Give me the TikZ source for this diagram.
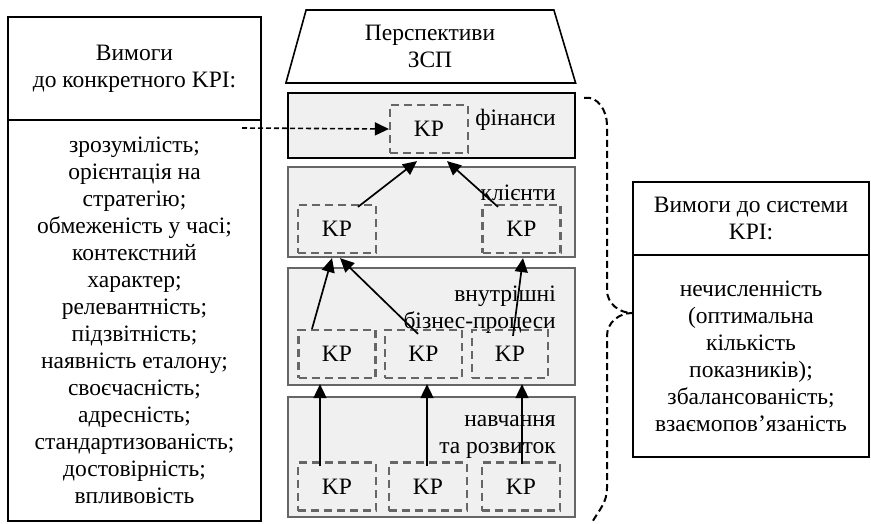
\documentclass[tikz,border=0pt]{standalone}
\usepackage{fontspec}
\setmainfont{Liberation Serif}
\usetikzlibrary{arrows.meta,shapes.geometric}

\begin{document}
\begin{tikzpicture}[
  x=1pt, y=1pt,
  >={Triangle[length=14pt,width=13pt]},
  every node/.style={font=\fontsize{23.5}{27}\selectfont, inner sep=0pt},
  reqbox/.style={
    draw,
    line width=1.6pt,
    align=center
  },
  persp/.style={
    draw,
    line width=1.6pt,
    trapezium,
    trapezium stretches=true,
    trapezium left angle=76,
    trapezium right angle=75,
    minimum width=290pt,
    minimum height=73pt,
    align=center
  },
  layer/.style={
    draw=black!60,
    line width=2.3pt,
    fill=black!6,
    minimum width=287pt
  },
  kpbox/.style={
    draw=black!60,
    dash pattern=on 8pt off 5pt,
    line width=2.2pt,
    minimum width=78pt,
    minimum height=48pt
  },
  lbl/.style={anchor=east, align=right},
  flow/.style={->, line width=1.7pt},
  linkflow/.style={->, line width=1.6pt, dash pattern=on 5pt off 3pt},
  brace/.style={line width=2pt, dash pattern=on 7pt off 4pt}
]
\useasboundingbox (0,0) rectangle (871,523);

\node[reqbox, minimum width=253pt, minimum height=103pt] (lhead) at (134.5,454.5)
  {Вимоги\\до конкретного KPI:};
\node[reqbox, minimum width=253pt, minimum height=401pt] (lbody) at (134.5,202.5)
  {зрозумілість;\\орієнтація на\\стратегію;\\обмеженість у часі;\\контекстний\\характер;\\релевантність;\\підзвітність;\\наявність еталону;\\своєчасність;\\адресність;\\стандартизованість;\\достовірність;\\впливовість};

\node[reqbox, minimum width=236pt, minimum height=73pt] (rhead) at (751,304.5)
  {Вимоги до системи\\KPI:};
\node[reqbox, minimum width=236pt, minimum height=202pt] (rbody) at (751,167)
  {нечисленність\\(оптимальна\\кількість\\показників);\\збалансованість;\\взаємопов’язаність};

\node[persp] (title) at (430,476.5) {Перспективи\\ЗСП};

\node[layer, draw=black, minimum height=65pt] (fin) at (431.5,397.5) {};
\node[layer, minimum height=90pt] (cli) at (431.5,311) {};
\node[layer, minimum height=117pt] (int) at (431.5,196.5) {};
\node[layer, minimum height=120pt] (lrn) at (431.5,66) {};

\node[lbl] (finlbl) at (556,403) {фінанси};
\node[lbl] (clilbl) at (556,330) {клієнти};
\node[lbl] (intlbl) at (556,213.5) {внутрішні\\бізнес-процеси};
\node[lbl] (lrnlbl) at (556,86.5) {навчання\\та розвиток};

\node[kpbox] (fk) at (429,394) {KP};
\node[kpbox] (c1) at (337,294) {KP};
\node[kpbox] (c2) at (521.5,294) {KP};
\node[kpbox, minimum width=77pt] (i1) at (337,169) {KP};
\node[kpbox, minimum width=77pt] (i2) at (423.5,169) {KP};
\node[kpbox, minimum width=76pt] (i3) at (510,169) {KP};
\node[kpbox] (l1) at (337,36.5) {KP};
\node[kpbox] (l2) at (428,36.5) {KP};
\node[kpbox] (l3) at (521,36.5) {KP};

\coordinate (src) at (242,395);
\coordinate (tip) at ([yshift=43]rbody.west);

\draw[linkflow] (src) -- (fk.west);

\draw[flow] ([shift={(21,-3)}]c1.north) -- ([shift={(-12,-7)}]fk.south);
\draw[flow] ([shift={(-23.5,-3)}]c2.north) -- ([shift={(18,-7)}]fk.south);

\draw[flow] ([shift={(-25,0)}]i1.north) -- ([shift={(-5,-4)}]c1.south);
\draw[flow] ([shift={(-5.5,-5)}]i2.north) -- ([shift={(3,-4)}]c1.south);
\draw[flow] ([shift={(3,-7)}]i3.north) -- ([shift={(1.5,-4)}]c2.south);

\draw[flow] ([shift={(-17,-5)}]l1.north) -- ([shift={(-17,-5)}]i1.south);
\draw[flow] ([shift={(-1,-5)}]l2.north) -- ([shift={(3.5,-5)}]i2.south);
\draw[flow] ([shift={(1,-3)}]l3.north) -- ([shift={(12,-5)}]i3.south);

\draw[brace] ([shift={(8,-6)}]fin.north east) to[out=10,in=90] (607,398)
  -- (607,233) to[out=-90,in=180] (tip)
  to[out=180,in=90] (607,187) -- (607,35) to[out=-90,in=60] ([shift={(16,-4)}]lrn.south east);

\end{tikzpicture}
\end{document}
